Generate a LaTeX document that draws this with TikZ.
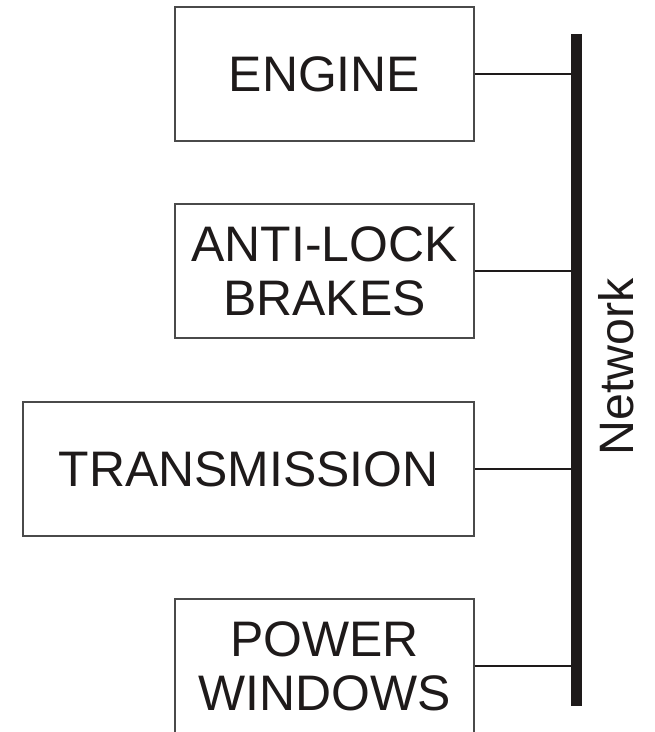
\documentclass[tikz,border=0pt]{standalone}
\usepackage{fontspec}
\setmainfont{Liberation Sans}
\usepackage{tikz}
\usetikzlibrary{positioning}
\definecolor{edge}{HTML}{4A4A4A}
\definecolor{ink}{HTML}{1E1A1A}
\tikzset{
  unit/.style={draw=edge,line width=0.75pt,rectangle,minimum width=5.98cm,minimum height=2.68cm,inner sep=0pt,align=center,text=ink,font=\fontsize{28.4pt}{30.7pt}\selectfont},
  link/.style={draw=ink,line width=1.2pt},
  bus/.style={draw=ink,line width=0.22cm},
  buslabel/.style={text=ink,font=\fontsize{27.5pt}{30pt}\selectfont,rotate=90,inner sep=0pt},
}
\begin{document}
\begin{tikzpicture}
\useasboundingbox (0,0) rectangle (13.08,-14.64);
\node[unit] (engine) at (6.49,-1.48) {ENGINE};
\node[unit] (abs) at (6.49,-5.42) {ANTI-LOCK\\BRAKES};
\node[unit,minimum width=9.02cm] (trans) at (4.97,-9.38) {TRANSMISSION};
\node[unit] (windows) at (6.49,-13.32) {POWER\\WINDOWS};
\coordinate (bustop) at (11.53,-0.68);
\coordinate (busbot) at (11.53,-14.12);
\draw[bus] (bustop) -- (busbot);
\node[buslabel] (net) at (12.33,-7.34) {Network};
\draw[link] (engine.east) -- (engine.east -| bustop);
\draw[link] (abs.east) -- (abs.east -| bustop);
\draw[link] (trans.east) -- (trans.east -| bustop);
\draw[link] (windows.east) -- (windows.east -| bustop);
\end{tikzpicture}
\end{document}
